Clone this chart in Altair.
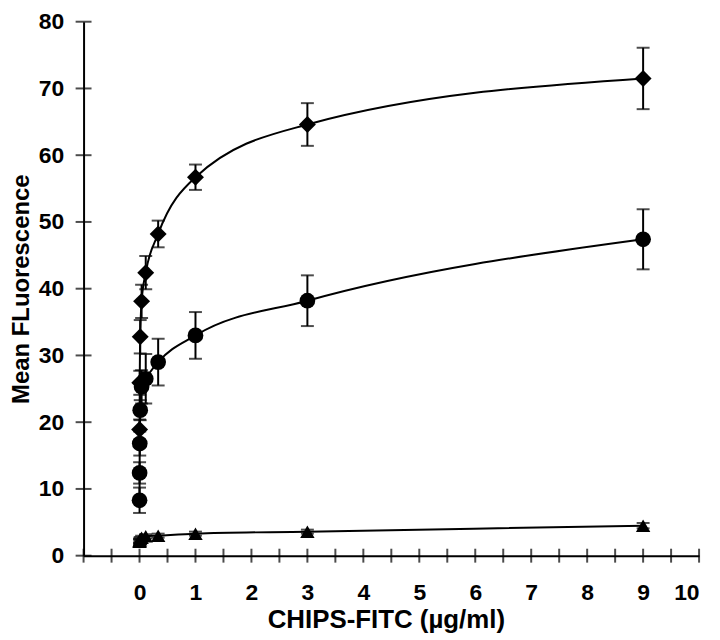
import altair as alt
import pandas as pd

# concentrations (µg/ml), serial 1:3 dilution
conc = [9, 3, 1, 0.333, 0.111, 0.037, 0.0123, 0.0041, 0.00137, 0.00046]

diamond_y = [71.5, 64.6, 56.7, 48.2, 42.4, 38.1, 32.8, 25.9, 18.9]
diamond_err = [4.6, 3.2, 1.9, 2.0, 2.5, 2.5, 2.5, 1.8, 1.5]

circle_y = [47.4, 38.2, 33.0, 29.0, 26.5, 25.3, 21.8, 16.8, 12.4, 8.3]
circle_err = [4.5, 3.8, 3.5, 3.5, 3.7, 2.5, 1.5, 1.8, 1.6, 1.9]

triangle_y = [4.5, 3.6, 3.3, 3.0, 2.9, 2.7, 2.5, 2.3, 2.2, 2.1]
triangle_err = [0.4, 0.3, 0.3, 0.3, 0.3, 0.3, 0.3, 0.3, 0.3, 0.3]

x_tick_values = [i * 0.5 for i in range(-2, 21)]
x_label_values = list(range(0, 11))
y_tick_values = list(range(0, 81, 10))

rows = []
for name, ys, es in [("diamond", diamond_y, diamond_err),
                     ("circle", circle_y, circle_err),
                     ("triangle", triangle_y, triangle_err)]:
    for xv, yv, ev in zip(conc, ys, es):
        rows.append({"series": name, "x": xv, "y": yv, "lo": yv - ev, "hi": yv + ev})
df = pd.DataFrame(rows)

FONT = "Liberation Sans"
xscale = alt.Scale(domain=[-1, 10], nice=False, zero=False)
yscale = alt.Scale(domain=[0, 80], nice=False, zero=False)

xax = alt.Axis(values=x_label_values, format="d", labelOverlap=False, ticks=False,
               grid=False, labelFont=FONT,
               labelFontWeight="bold", labelFontSize=23, labelPadding=26,
               labelColor="black", domainColor="black", domainWidth=2,
               title="CHIPS-FITC (µg/ml)", titleFont=FONT, titleFontWeight="bold",
               titleFontSize=26, titleColor="black", titleBaseline="alphabetic",
               titleY=72, titleX=304, titleAlign="center")
yax = alt.Axis(values=y_tick_values, format="d", labelOverlap=False, ticks=False,
               grid=False, labelFont=FONT,
               labelFontWeight="bold", labelFontSize=23, labelPadding=20,
               labelColor="black", domainColor="black", domainWidth=2,
               title="Mean FLuorescence", titleFont=FONT, titleFontWeight="bold",
               titleFontSize=24, titleColor="black", titleBaseline="alphabetic",
               titleX=-55)

base = alt.Chart(df)

lines = base.mark_line(interpolate="monotone", color="black", strokeWidth=2).encode(
    x=alt.X("x:Q", scale=xscale, axis=xax),
    y=alt.Y("y:Q", scale=yscale, axis=yax),
    detail="series:N",
)

bars = base.mark_rule(color="black", strokeWidth=2).encode(
    x=alt.X("x:Q", scale=xscale),
    y=alt.Y("lo:Q", scale=yscale),
    y2="hi:Q",
)

cap_lo = base.mark_tick(orient="horizontal", color="black", size=13, thickness=2).encode(
    x=alt.X("x:Q", scale=xscale),
    y=alt.Y("lo:Q", scale=yscale),
)
cap_hi = base.mark_tick(orient="horizontal", color="black", size=13, thickness=2).encode(
    x=alt.X("x:Q", scale=xscale),
    y=alt.Y("hi:Q", scale=yscale),
)

points = base.mark_point(filled=True, opacity=1, color="black").encode(
    x=alt.X("x:Q", scale=xscale),
    y=alt.Y("y:Q", scale=yscale),
    shape=alt.Shape("series:N",
                    scale=alt.Scale(domain=["diamond", "circle", "triangle"],
                                    range=["diamond", "circle", "triangle-up"]),
                    legend=None),
    size=alt.Size("series:N",
                  scale=alt.Scale(domain=["diamond", "circle", "triangle"],
                                  range=[290, 210, 260]),
                  legend=None),
)

xticks = alt.Chart(pd.DataFrame({"t": x_tick_values})).mark_tick(
    orient="vertical", color="black", size=14, thickness=2).encode(
    x=alt.X("t:Q", scale=xscale),
    y=alt.datum(0, scale=yscale),
)
yticks = alt.Chart(pd.DataFrame({"t": y_tick_values})).mark_tick(
    orient="horizontal", color="black", size=16, thickness=2).encode(
    y=alt.Y("t:Q", scale=yscale),
    x=alt.datum(-1, scale=xscale),
)

chart = alt.layer(lines, bars, cap_lo, cap_hi, points, xticks, yticks).properties(
    width=619, height=537,
    autosize=alt.AutoSizeParams(type="none"),
    padding={"left": 76, "top": 12, "right": 13, "bottom": 80},
    background="white",
).configure_view(stroke=None)

chart.save("out.html", embed_options={"renderer": "svg", "actions": False})
